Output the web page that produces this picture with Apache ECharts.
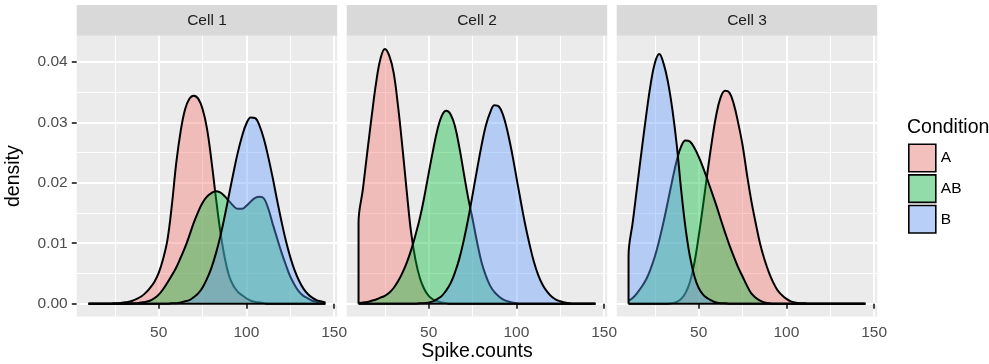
<!DOCTYPE html>
<html>
<head>
<meta charset="utf-8">
<script src="https://cdn.jsdelivr.net/npm/echarts@6/dist/echarts.min.js"></script>
<style>
  html, body { margin: 0; background: #fff; }
  #chart { width: 989px; height: 364px; }
</style>
</head>
<body>
<div id="chart"></div>
<script>
// x grid the densities were read on (step 2.5)
const spikeCounts = [
  10, 12.5, 15, 17.5, 20, 22.5, 25, 27.5, 30, 32.5,
  35, 37.5, 40, 42.5, 45, 47.5, 50, 52.5, 55, 57.5,
  60, 62.5, 65, 67.5, 70, 72.5, 75, 77.5, 80, 82.5,
  85, 87.5, 90, 92.5, 95, 97.5, 100, 102.5, 105, 107.5,
  110, 112.5, 115, 117.5, 120, 122.5, 125, 127.5, 130, 132.5,
  135, 137.5, 140, 142.5, 145,
];

const cellNames = ["Cell 1", "Cell 2", "Cell 3"];
const conditions = ["A", "AB", "B"];

// density values
const cell1A = [
  0, 0, 0, 0, 0, 0, 0.0001, 0.0001, 0.0002, 0.0003,
  0.0005, 0.0008, 0.0012, 0.0018, 0.0026, 0.0036, 0.0051, 0.0074, 0.0106, 0.0163,
  0.0233, 0.0285, 0.0321, 0.0339, 0.0344, 0.0339, 0.0322, 0.029, 0.0238, 0.0178,
  0.0122, 0.0078, 0.0047, 0.003, 0.002, 0.0014, 0.0009, 0.0005, 0.0003, 0.0002,
  0.0001, 0, 0, 0, 0, 0, 0, 0, 0, 0,
  0, 0, 0, 0, 0,
];
const cell1AB = [
  0, 0, 0, 0, 0, 0, 0, 0, 0, 0,
  0.0001, 0.0001, 0.0002, 0.0003, 0.0005, 0.0009, 0.0015, 0.0024, 0.0035, 0.0047,
  0.006, 0.0076, 0.0093, 0.0113, 0.0134, 0.0152, 0.0167, 0.0177, 0.0183, 0.0186,
  0.0184, 0.0178, 0.017, 0.0162, 0.0157, 0.0157, 0.0162, 0.0169, 0.0175, 0.0177,
  0.0174, 0.0157, 0.0132, 0.0108, 0.0085, 0.0064, 0.0045, 0.0031, 0.002, 0.0013,
  0.0009, 0.0005, 0.0003, 0.0002, 0.0001,
];
const cell1B = [
  0, 0, 0, 0, 0, 0, 0, 0, 0, 0,
  0, 0, 0, 0, 0, 0, 0, 0, 0, 0.0001,
  0.0001, 0.0002, 0.0004, 0.0006, 0.0011, 0.0017, 0.0027, 0.0041, 0.0059, 0.0082,
  0.011, 0.0143, 0.0179, 0.0215, 0.0249, 0.0277, 0.0298, 0.0308, 0.0307, 0.0294,
  0.0272, 0.0242, 0.0208, 0.0171, 0.0136, 0.0104, 0.0077, 0.0055, 0.0038, 0.0025,
  0.0016, 0.001, 0.0006, 0.0004, 0.0002,
];

const cell2A = [
  0.0134, 0.019, 0.0251, 0.031, 0.0365, 0.0405, 0.0421, 0.041, 0.0382, 0.0327,
  0.0259, 0.0185, 0.0117, 0.0072, 0.0042, 0.0024, 0.0013, 0.0007, 0.0004, 0.0002,
  0.0001, 0, 0, 0, 0, 0, 0, 0, 0, 0,
  0, 0, 0, 0, 0, 0, 0, 0, 0, 0,
  0, 0, 0, 0, 0, 0, 0, 0, 0, 0,
  0, 0, 0, 0, 0,
];
const cell2AB = [
  0.0001, 0.0002, 0.0003, 0.0005, 0.0007, 0.001, 0.0013, 0.0018, 0.0026, 0.0037,
  0.0051, 0.0068, 0.0089, 0.0114, 0.0142, 0.0177, 0.0216, 0.0254, 0.0288, 0.0311,
  0.0319, 0.0313, 0.0293, 0.0258, 0.0216, 0.0175, 0.014, 0.0103, 0.007, 0.0047,
  0.003, 0.0019, 0.0012, 0.0007, 0.0004, 0.0002, 0.0001, 0, 0, 0,
  0, 0, 0, 0, 0, 0, 0, 0, 0, 0,
  0, 0, 0, 0, 0,
];
const cell2B = [
  0, 0, 0, 0, 0, 0, 0, 0, 0, 0,
  0, 0, 0, 0, 0.0001, 0.0001, 0.0002, 0.0004, 0.0008, 0.0013,
  0.0022, 0.0034, 0.0052, 0.0075, 0.0105, 0.014, 0.018, 0.0221, 0.026, 0.0294,
  0.0316, 0.0328, 0.0326, 0.0311, 0.0284, 0.0249, 0.0209, 0.0169, 0.0131, 0.0098,
  0.0069, 0.0047, 0.0031, 0.002, 0.0012, 0.0007, 0.0004, 0.0002, 0.0001, 0,
  0, 0, 0, 0, 0,
];

const cell3A = [
  0, 0, 0, 0, 0, 0, 0, 0, 0, 0,
  0.0001, 0.0003, 0.0008, 0.0018, 0.0036, 0.0067, 0.0112, 0.0163, 0.0217, 0.0268,
  0.0312, 0.0341, 0.0352, 0.0349, 0.033, 0.0299, 0.0262, 0.0214, 0.017, 0.0133,
  0.0099, 0.0073, 0.0052, 0.0035, 0.0022, 0.0014, 0.0008, 0.0004, 0.0002, 0.0001,
  0.0001, 0, 0, 0, 0, 0, 0, 0, 0, 0,
  0, 0, 0, 0, 0,
];
const cell3AB = [
  0.0005, 0.001, 0.0018, 0.0028, 0.004, 0.0057, 0.0078, 0.0105, 0.0136, 0.017,
  0.0205, 0.0237, 0.026, 0.027, 0.0268, 0.0258, 0.0243, 0.0225, 0.0205, 0.0184,
  0.0163, 0.014, 0.0118, 0.0097, 0.0078, 0.006, 0.0045, 0.003, 0.0017, 0.001,
  0.0005, 0.0002, 0.0001, 0, 0, 0, 0, 0, 0, 0,
  0, 0, 0, 0, 0, 0, 0, 0, 0, 0,
  0, 0, 0, 0, 0,
];
const cell3B = [
  0.0079, 0.0137, 0.0196, 0.0254, 0.031, 0.0361, 0.0398, 0.0413, 0.0397, 0.0366,
  0.0321, 0.0262, 0.0188, 0.0125, 0.0078, 0.0046, 0.0026, 0.0015, 0.0009, 0.0005,
  0.0002, 0.0001, 0.0001, 0, 0, 0, 0, 0, 0, 0,
  0, 0, 0, 0, 0, 0, 0, 0, 0, 0,
  0, 0, 0, 0, 0, 0, 0, 0, 0, 0,
  0, 0, 0, 0, 0,
];

const xTicks = [50, 100, 150];
const xMinorTicks = [25, 75, 125];
const yTicks = [0, 0.01, 0.02, 0.03, 0.04];
const yMinorTicks = [0.005, 0.015, 0.025, 0.035];

const cells = [
  [cell1A, cell1AB, cell1B],
  [cell2A, cell2AB, cell2B],
  [cell3A, cell3AB, cell3B],
];

// layout
const FONT = '"Liberation Sans", Arial, sans-serif';
const LEFTS = [76.7, 346.7, 616.7];
const PW = 260.5, PT = 35.7, PH = 280.8;
const X_MIN = 3.25, X_MAX = 151.75;
const Y_MIN = -0.00211, Y_MAX = 0.04431;
const FILLS = ["#F8766D", "#00BA38", "#619CFF"];
const KEY_FILLS = ["rgb(244,192,189)", "rgb(145,220,168)", "rgb(184,208,247)"];

const chart = echarts.init(document.getElementById("chart"), null, { renderer: "canvas" });

const grids = LEFTS.map((l) => ({
  left: l, top: PT, width: PW, height: PH,
  show: true, backgroundColor: "#EBEBEB", borderWidth: 0,
}));

const xAxes = [];
const yAxes = [];
LEFTS.forEach((l, i) => {
  xAxes.push({
    gridIndex: i, type: "value", min: X_MIN, max: X_MAX, position: "bottom",
    axisLine: { show: false },
    axisTick: { show: true, length: 4.9, customValues: xTicks, lineStyle: { color: "#333333", width: 1.8 } },
    axisLabel: { customValues: xTicks, color: "#4D4D4D", fontSize: 15.5, margin: 8.5, fontFamily: FONT },
    splitLine: { show: true, lineStyle: { color: "#ffffff", width: 1.9 } },
  });
  xAxes.push({
    gridIndex: i, type: "value", min: X_MIN, max: X_MAX, position: "top",
    axisLine: { show: false },
    axisTick: { show: false, customValues: xMinorTicks },
    axisLabel: { show: false },
    splitLine: { show: true, lineStyle: { color: "#ffffff", width: 0.95 } },
  });
  yAxes.push({
    gridIndex: i, type: "value", min: Y_MIN, max: Y_MAX, position: "left",
    axisLine: { show: false },
    axisTick: { show: i === 0, length: 4.9, customValues: yTicks, lineStyle: { color: "#333333", width: 1.8 } },
    axisLabel: {
      show: i === 0, customValues: yTicks, color: "#4D4D4D", fontSize: 15.5, margin: 9, fontFamily: FONT,
      formatter: (v) => v.toFixed(2),
    },
    splitLine: { show: true, lineStyle: { color: "#ffffff", width: 1.9 } },
  });
  yAxes.push({
    gridIndex: i, type: "value", min: Y_MIN, max: Y_MAX, position: "right",
    axisLine: { show: false },
    axisTick: { show: false, customValues: yMinorTicks },
    axisLabel: { show: false },
    splitLine: { show: true, lineStyle: { color: "#ffffff", width: 0.95 } },
  });
});

const series = [];
cells.forEach((groups, i) => {
  groups.forEach((vals, j) => {
    const pts = spikeCounts.map((x, k) => [x, vals[k]]);
    // close the polygon edge at the left end when the curve starts above 0
    if (vals[0] > 0.001) pts.unshift([spikeCounts[0], 0]);
    series.push({
      type: "line",
      name: conditions[j],
      xAxisIndex: 2 * i,
      yAxisIndex: 2 * i,
      data: pts,
      smooth: 0.4,
      symbol: "none",
      z: 2 + j,
      silent: true,
      emphasis: { disabled: true },
      itemStyle: { color: FILLS[j] },
      lineStyle: { color: "#000", width: 2 },
      areaStyle: { color: FILLS[j], opacity: 0.4 },
    });
  });
  // polygon baseline
  series.push({
    type: "line",
    name: "baseline" + i,
    xAxisIndex: 2 * i,
    yAxisIndex: 2 * i,
    data: [[spikeCounts[0], 0], [spikeCounts[spikeCounts.length - 1], 0]],
    symbol: "none",
    z: 6,
    silent: true,
    emphasis: { disabled: true },
    lineStyle: { color: "#000", width: 2 },
  });
});

const graphic = [];
LEFTS.forEach((l, i) => {
  graphic.push({
    type: "rect", left: l, top: 5, silent: true,
    shape: { width: PW, height: PT - 5 },
    style: { fill: "#D9D9D9" },
  });
  graphic.push({
    type: "text", x: l + PW / 2, y: (PT + 5) / 2, silent: true,
    style: { text: cellNames[i], fill: "#1A1A1A", font: "15.5px " + FONT, textAlign: "center", textVerticalAlign: "middle" },
  });
});
graphic.push({
  type: "text", x: (LEFTS[0] + LEFTS[2] + PW) / 2, y: 352, silent: true,
  style: { text: "Spike.counts", fill: "#000", font: "19.5px " + FONT, textAlign: "center", textVerticalAlign: "middle" },
});
graphic.push({
  type: "text", x: 14, y: PT + PH / 2, rotation: Math.PI / 2, silent: true,
  style: { text: "density", fill: "#000", font: "19.5px " + FONT, textAlign: "center", textVerticalAlign: "middle" },
});
graphic.push({
  type: "text", x: 907, y: 128, silent: true,
  style: { text: "Condition", fill: "#000", font: "19.5px " + FONT, textAlign: "left", textVerticalAlign: "middle" },
});

chart.setOption({
  animation: false,
  backgroundColor: "#fff",
  grid: grids,
  xAxis: xAxes,
  yAxis: yAxes,
  legend: {
    orient: "vertical",
    left: 908,
    top: 143.5,
    padding: 0,
    itemWidth: 27,
    itemHeight: 27.5,
    itemGap: 1.5,
    icon: "rect",
    selectedMode: false,
    textStyle: { fontSize: 15.5, color: "#000", fontFamily: FONT },
    data: conditions.map((c, j) => ({
      name: c,
      itemStyle: { color: KEY_FILLS[j], borderColor: "#000", borderWidth: 1.6, opacity: 1 },
    })),
  },
  graphic,
  series,
});
</script>
</body>
</html>
